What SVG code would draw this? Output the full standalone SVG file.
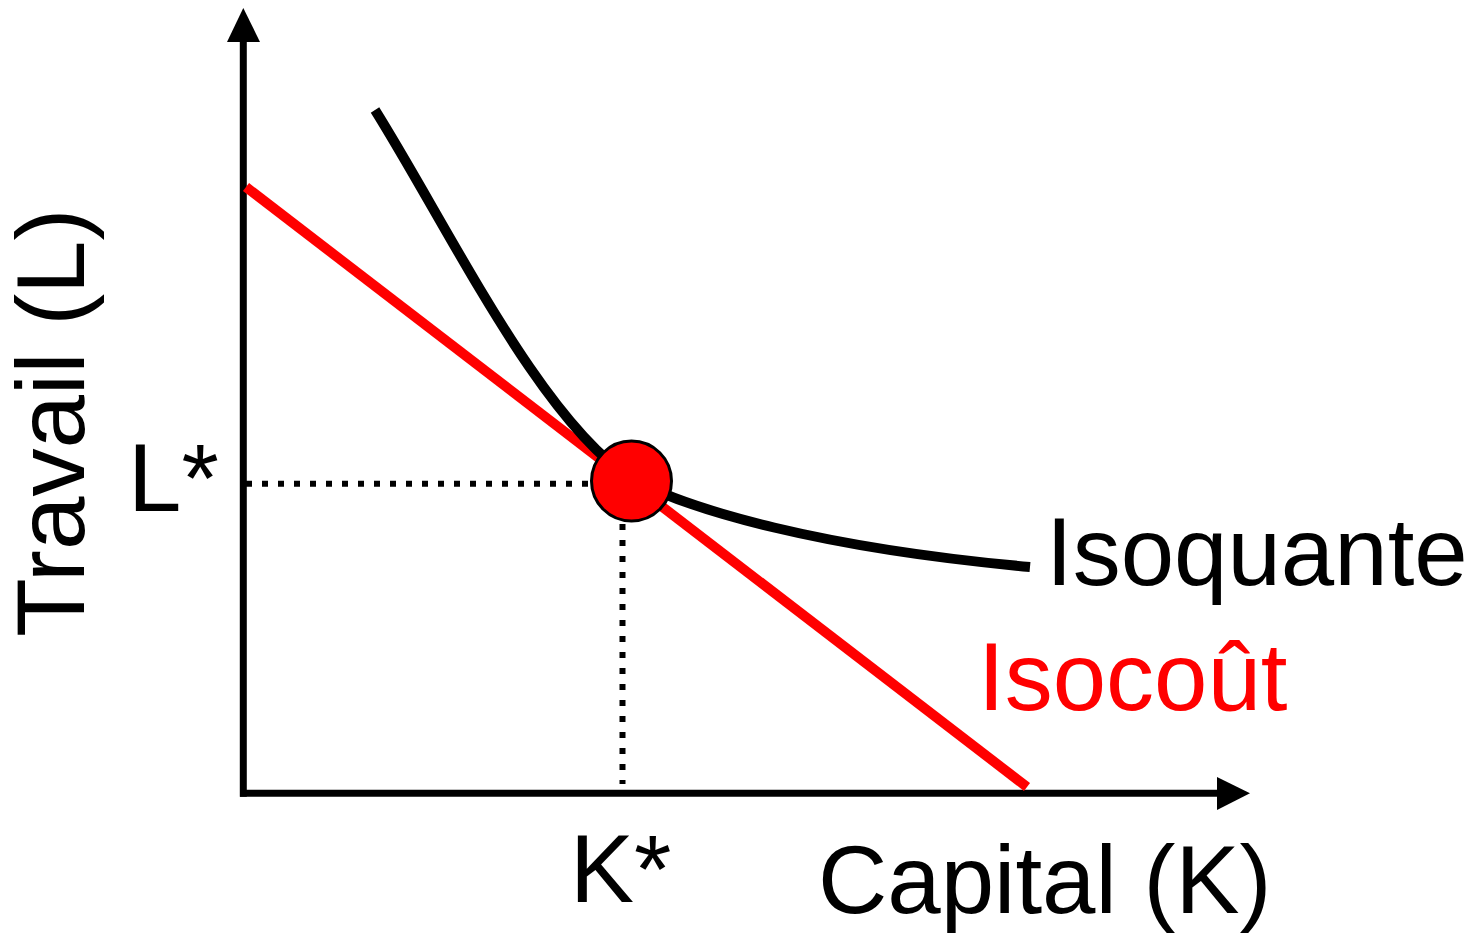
<svg xmlns="http://www.w3.org/2000/svg" width="1484" height="935" viewBox="0 0 1484 935">
<style>
text{font-family:"Liberation Sans",Arial,sans-serif;font-size:96px;fill:#000}
.red{fill:#ff0000}
.axis{stroke:#000;stroke-width:7;fill:none}
.dot{stroke:#000;stroke-width:6;stroke-dasharray:6 10;fill:none}
</style>
<rect width="1484" height="935" fill="#fff"/>
<g id="connectors">
<line class="axis" x1="243.3" y1="40" x2="243.3" y2="796.8"/>
<polygon points="243.3,8 227,42 260,42" fill="#000"/>
<line class="axis" x1="240" y1="793.3" x2="1219" y2="793.3"/>
<polygon points="1250,793.3 1217,777 1217,810" fill="#000"/>
<line class="dot" x1="246" y1="483.7" x2="592" y2="483.7"/>
<line class="dot" x1="622.5" y1="524" x2="622.5" y2="784"/>
</g>
<g id="isocout-line">
<line x1="246" y1="187" x2="1027" y2="787" stroke="#ff0000" stroke-width="10"/>
</g>
<g id="isoquante-curve">
<path d="M375,110 C450,230 540,420 632,479 C690,510 820,548 1030,567" fill="none" stroke="#000" stroke-width="10"/>
</g>
<g id="optimum">
<circle cx="631.5" cy="481" r="40" fill="#ff0000" stroke="#000" stroke-width="3"/>
</g>
<g id="labels">
<text transform="translate(84,637) rotate(-90)">Travail (L)</text>
<text x="128" y="511">L*</text>
<text x="570" y="902">K*</text>
<text x="818" y="913">Capital (K)</text>
<text x="1046" y="585">Isoquante</text>
<text class="red" x="978" y="710">Isocoût</text>
</g>
</svg>
